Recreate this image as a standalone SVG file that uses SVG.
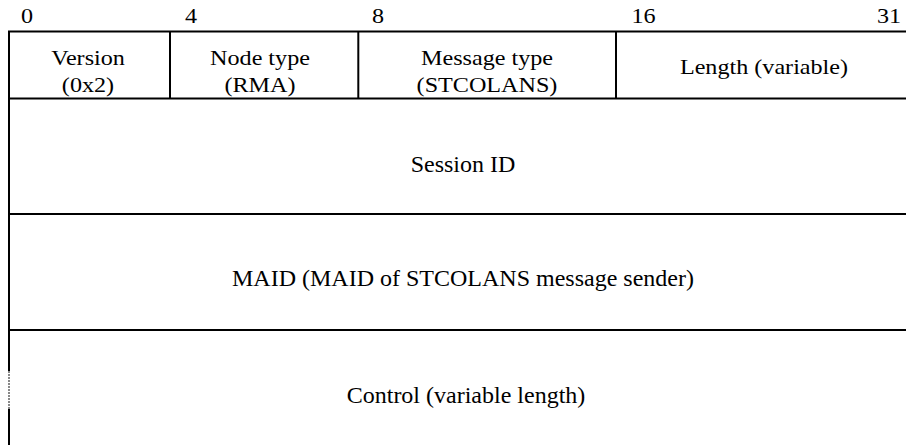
<svg xmlns="http://www.w3.org/2000/svg" width="906" height="445" viewBox="0 0 906 445">
<style>
.ln{stroke:#000;stroke-width:2;fill:none}
text{font-family:'Liberation Serif','Times New Roman',serif;fill:#000;text-anchor:middle}
.h{font-size:21px}
.b{font-size:24px}
</style>
<rect width="906" height="445" fill="#fff"/>
<g id="bit-labels" class="h">
<text transform="translate(27,23) scale(1.15,1)">0</text>
<text transform="translate(191,23) scale(1.15,1)">4</text>
<text transform="translate(378,23) scale(1.15,1)">8</text>
<text transform="translate(643.5,23) scale(1.15,1)">16</text>
<text transform="translate(889,23) scale(1.15,1)">31</text>
</g>
<g id="grid">
<line class="ln" x1="8" y1="31.5" x2="906" y2="31.5"/>
<line class="ln" x1="8" y1="98.5" x2="906" y2="98.5"/>
<line class="ln" x1="8" y1="214" x2="906" y2="214"/>
<line class="ln" x1="8" y1="330" x2="906" y2="330"/>
<line class="ln" x1="9" y1="31" x2="9" y2="371"/>
<line x1="9" y1="371" x2="9" y2="409" stroke="#888" stroke-width="2" stroke-dasharray="2,1"/>
<line class="ln" x1="9" y1="409" x2="9" y2="445"/>
<line class="ln" x1="170" y1="31" x2="170" y2="99"/>
<line class="ln" x1="358.3" y1="31" x2="358.3" y2="99"/>
<line class="ln" x1="616" y1="31" x2="616" y2="99"/>
</g>
<g id="version" class="h">
<text transform="translate(88,64.5) scale(1.15,1)">Version</text>
<text transform="translate(88,92) scale(1.15,1)">(0x2)</text>
</g>
<g id="node-type" class="h">
<text transform="translate(260,64.5) scale(1.15,1)">Node type</text>
<text transform="translate(260,92) scale(1.15,1)">(RMA)</text>
</g>
<g id="message-type" class="h">
<text transform="translate(487,65) scale(1.15,1)">Message type</text>
<text transform="translate(487,92) scale(1.15,1)">(STCOLANS)</text>
</g>
<g id="length" class="h">
<text transform="translate(764,73.5) scale(1.15,1)">Length (variable)</text>
</g>
<g id="session-id">
<text class="b" x="463" y="171.5">Session ID</text>
</g>
<g id="maid">
<text class="b" x="463" y="286">MAID (MAID of STCOLANS message sender)</text>
</g>
<g id="control">
<text class="b" x="466" y="403">Control (variable length)</text>
</g>
<g id="connectors"/>
</svg>
